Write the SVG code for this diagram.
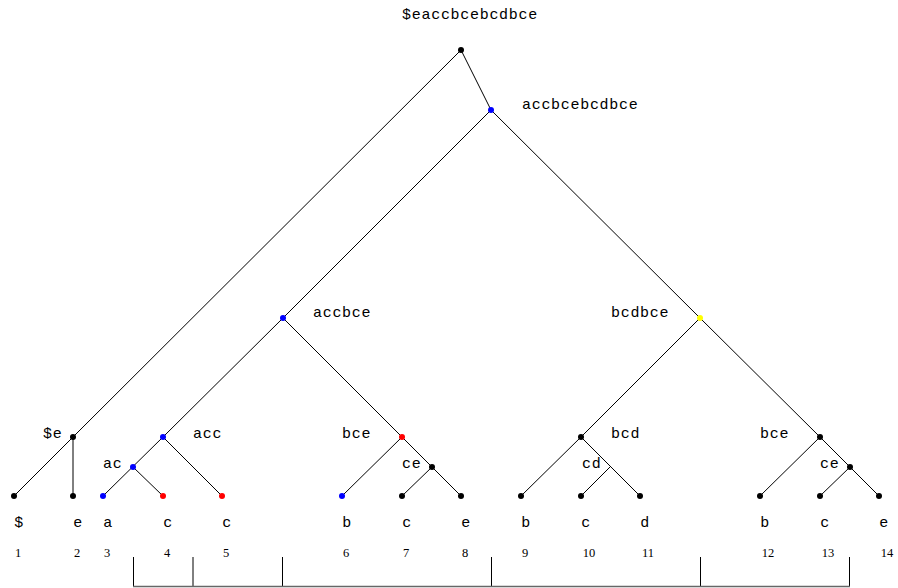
<svg xmlns="http://www.w3.org/2000/svg" width="898" height="588" viewBox="0 0 898 588">
<style>
.e{stroke:#000;stroke-width:1;fill:none}
.lbl{font-family:"Liberation Mono",monospace;font-size:15px;letter-spacing:0.7px;fill:#000}
.num{font-family:"Liberation Serif",serif;font-size:12.5px;fill:#000;text-anchor:middle}
.lf{text-anchor:middle}
.k{fill:#000}.b{fill:#0000ff}.r{fill:#ff0000}.y{fill:#ffff00}
</style>
<rect width="898" height="588" fill="#fff"/>
<g id="connectors" class="e">
<line x1="461" y1="50" x2="73" y2="437"/>
<line x1="73" y1="437" x2="14" y2="496"/>
<line x1="73" y1="437" x2="73" y2="496"/>
<line x1="461" y1="50" x2="491" y2="110"/>
<line x1="491" y1="110" x2="283" y2="318"/>
<line x1="491" y1="110" x2="700" y2="318"/>
<line x1="283" y1="318" x2="163" y2="437"/>
<line x1="163" y1="437" x2="103" y2="496"/>
<line x1="133" y1="467" x2="163" y2="496"/>
<line x1="163" y1="437" x2="222" y2="496"/>
<line x1="283" y1="318" x2="402" y2="437"/>
<line x1="402" y1="437" x2="342" y2="496"/>
<line x1="402" y1="437" x2="461" y2="496"/>
<line x1="432" y1="467" x2="402" y2="496"/>
<line x1="700" y1="318" x2="581" y2="437"/>
<line x1="581" y1="437" x2="521" y2="496"/>
<line x1="581" y1="437" x2="640" y2="496"/>
<line x1="610.5" y1="466.5" x2="581" y2="496"/>
<line x1="700" y1="318" x2="820" y2="437"/>
<line x1="820" y1="437" x2="760" y2="496"/>
<line x1="820" y1="437" x2="879" y2="496"/>
<line x1="850" y1="467" x2="820" y2="496"/>
</g>
<g id="bracket" class="e">
<line x1="133.5" y1="557" x2="133.5" y2="586"/>
<line x1="193" y1="557" x2="193" y2="586"/>
<line x1="282.5" y1="557" x2="282.5" y2="586"/>
<line x1="491.5" y1="557" x2="491.5" y2="586"/>
<line x1="700.5" y1="557" x2="700.5" y2="586"/>
<line x1="849.5" y1="557" x2="849.5" y2="586"/>
<line x1="133" y1="586.5" x2="850" y2="586.5" style="stroke:#666;stroke-width:1.3"/>
</g>
<g id="n-root"><circle class="k" cx="461" cy="50" r="3"/><text class="lbl" x="470" y="19" text-anchor="middle">$eaccbcebcdbce</text></g>
<g id="n-accbcebcdbce"><circle class="b" cx="491" cy="110" r="3"/><text class="lbl" x="522" y="109">accbcebcdbce</text></g>
<g id="n-accbce"><circle class="b" cx="283" cy="318" r="3"/><text class="lbl" x="313" y="317">accbce</text></g>
<g id="n-bcdbce"><circle class="y" cx="700" cy="318" r="3"/><text class="lbl" x="611" y="317">bcdbce</text></g>
<g id="n-de"><circle class="k" cx="73" cy="437" r="3"/><text class="lbl" x="43" y="438">$e</text></g>
<g id="n-acc"><circle class="b" cx="163" cy="437" r="3"/><text class="lbl" x="193" y="438">acc</text></g>
<g id="n-bce1"><circle class="r" cx="402" cy="437" r="3"/><text class="lbl" x="342" y="438">bce</text></g>
<g id="n-bcd"><circle class="k" cx="581" cy="437" r="3"/><text class="lbl" x="611" y="438">bcd</text></g>
<g id="n-bce2"><circle class="k" cx="820" cy="437" r="3"/><text class="lbl" x="760" y="438">bce</text></g>
<g id="n-ac"><circle class="b" cx="133" cy="467" r="3"/><text class="lbl" x="103" y="468">ac</text></g>
<g id="n-ce1"><circle class="k" cx="432" cy="467" r="3"/><text class="lbl" x="402" y="468">ce</text></g>
<g id="n-cd"><text class="lbl" x="582" y="468">cd</text></g>
<g id="n-ce2"><circle class="k" cx="850" cy="467" r="3"/><text class="lbl" x="820" y="468">ce</text></g>
<g id="leaf1"><circle class="k" cx="14" cy="496" r="3"/><text class="lbl lf" x="19" y="527">$</text><text class="num" x="18" y="557">1</text></g>
<g id="leaf2"><circle class="k" cx="73" cy="496" r="3"/><text class="lbl lf" x="78" y="527">e</text><text class="num" x="77" y="557">2</text></g>
<g id="leaf3"><circle class="b" cx="103" cy="496" r="3"/><text class="lbl lf" x="108" y="527">a</text><text class="num" x="107" y="557">3</text></g>
<g id="leaf4"><circle class="r" cx="163" cy="496" r="3"/><text class="lbl lf" x="168" y="527">c</text><text class="num" x="167" y="557">4</text></g>
<g id="leaf5"><circle class="r" cx="222" cy="496" r="3"/><text class="lbl lf" x="227" y="527">c</text><text class="num" x="226" y="557">5</text></g>
<g id="leaf6"><circle class="b" cx="342" cy="496" r="3"/><text class="lbl lf" x="347" y="527">b</text><text class="num" x="346" y="557">6</text></g>
<g id="leaf7"><circle class="k" cx="402" cy="496" r="3"/><text class="lbl lf" x="407" y="527">c</text><text class="num" x="406" y="557">7</text></g>
<g id="leaf8"><circle class="k" cx="461" cy="496" r="3"/><text class="lbl lf" x="466" y="527">e</text><text class="num" x="465" y="557">8</text></g>
<g id="leaf9"><circle class="k" cx="521" cy="496" r="3"/><text class="lbl lf" x="526" y="527">b</text><text class="num" x="525" y="557">9</text></g>
<g id="leaf10"><circle class="k" cx="581" cy="496" r="3"/><text class="lbl lf" x="586" y="527">c</text><text class="num" x="589" y="557">10</text></g>
<g id="leaf11"><circle class="k" cx="640" cy="496" r="3"/><text class="lbl lf" x="645" y="527">d</text><text class="num" x="648" y="557">11</text></g>
<g id="leaf12"><circle class="k" cx="760" cy="496" r="3"/><text class="lbl lf" x="765" y="527">b</text><text class="num" x="768" y="557">12</text></g>
<g id="leaf13"><circle class="k" cx="820" cy="496" r="3"/><text class="lbl lf" x="825" y="527">c</text><text class="num" x="828" y="557">13</text></g>
<g id="leaf14"><circle class="k" cx="879" cy="496" r="3"/><text class="lbl lf" x="884" y="527">e</text><text class="num" x="887" y="557">14</text></g>
</svg>
